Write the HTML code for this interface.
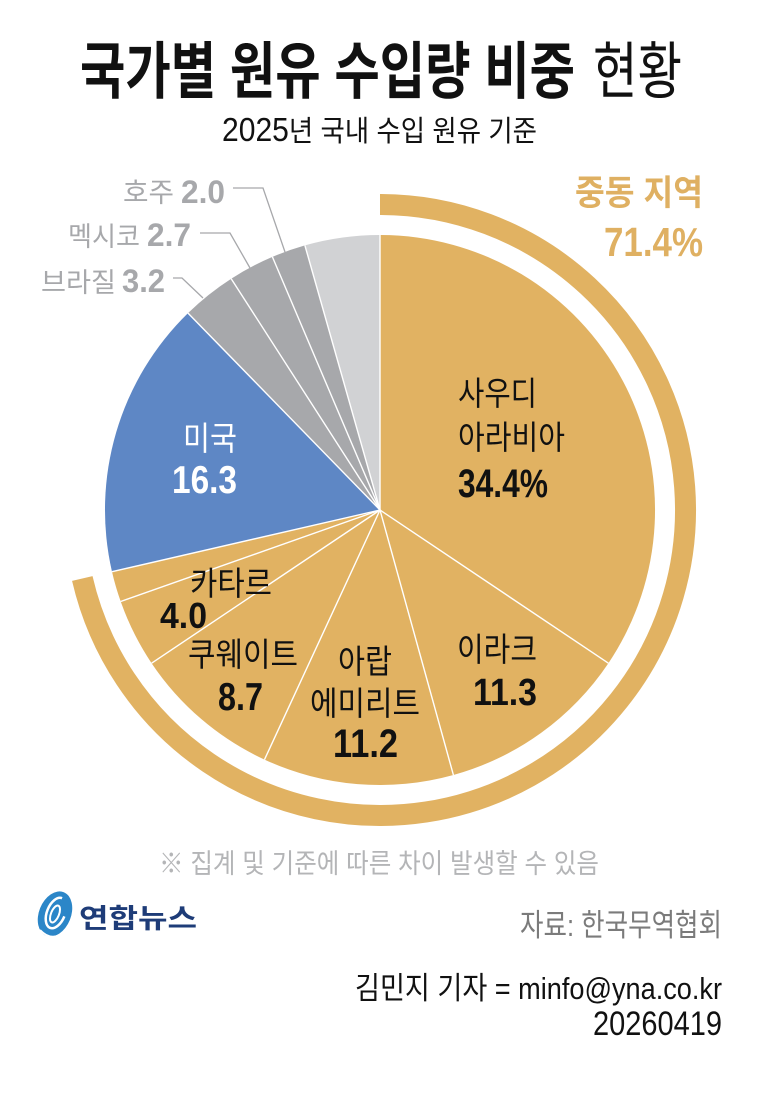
<!DOCTYPE html>
<html>
<head>
<meta charset="utf-8">
<style>
  html, body { margin: 0; padding: 0; background: #ffffff; }
  body { width: 759px; height: 1116px; overflow: hidden; }
  svg { display: block; }
  text { font-family: "Liberation Sans", "Noto Sans CJK KR", sans-serif; }
  .k { font-family: "Liberation Sans", "Noto Sans CJK KR", sans-serif; }
</style>
</head>
<body>
<svg width="759" height="1116" viewBox="0 0 759 1116" xmlns="http://www.w3.org/2000/svg">
  <rect x="0" y="0" width="759" height="1116" fill="#ffffff"/>

  <!-- Title -->
  <text x="80" y="93" font-size="62" font-weight="bold" fill="#111" textLength="495" lengthAdjust="spacingAndGlyphs">국가별 원유 수입량 비중</text>
  <text x="593" y="93" font-size="62" font-weight="normal" fill="#111" textLength="89" lengthAdjust="spacingAndGlyphs">현황</text>

  <!-- Subtitle -->
  <text x="222" y="141" font-size="29" fill="#111" textLength="315" lengthAdjust="spacingAndGlyphs"><tspan font-size="33">2025</tspan>년 국내 수입 원유 기준</text>

  <!-- Outer ring (Middle East 71.4%) -->
  <path d="M380,204.5 A305.5,305.5 0 1,1 82.3,578.5" stroke="#E1B262" stroke-width="21" fill="none"/>

  <!-- Pie slices -->
  <g>
    <path d="M380,510 L380,235 A275,275 0 0,1 608.4,663.2 Z" fill="#E1B262"/>
    <path d="M380,510 L608.4,663.2 A275,275 0 0,1 453.4,775.0 Z" fill="#E1B262"/>
    <path d="M380,510 L453.4,775.0 A275,275 0 0,1 264.5,759.6 Z" fill="#E1B262"/>
    <path d="M380,510 L264.5,759.6 A275,275 0 0,1 151.6,663.2 Z" fill="#E1B262"/>
    <path d="M380,510 L151.6,663.2 A275,275 0 0,1 120.7,601.5 Z" fill="#E1B262"/>
    <path d="M380,510 L120.7,601.5 A275,275 0 0,1 112.0,571.7 Z" fill="#E1B262"/>
    <path d="M380,510 L112.0,571.7 A275,275 0 0,1 188.0,313.1 Z" fill="#5E87C5"/>
    <path d="M380,510 L188.0,313.1 A275,275 0 0,1 231.2,278.7 Z" fill="#A7A8AB"/>
    <path d="M380,510 L231.2,278.7 A275,275 0 0,1 272.4,256.9 Z" fill="#A7A8AB"/>
    <path d="M380,510 L272.4,256.9 A275,275 0 0,1 304.9,245.4 Z" fill="#A7A8AB"/>
    <path d="M380,510 L304.9,245.4 A275,275 0 0,1 380,235 Z" fill="#D1D2D4"/>
  </g>
  <!-- separators -->
  <g stroke="#ffffff" stroke-width="1.4" fill="none">
    <line x1="380" y1="510" x2="380" y2="235"/>
    <line x1="380" y1="510" x2="608.4" y2="663.2"/>
    <line x1="380" y1="510" x2="453.4" y2="775.0"/>
    <line x1="380" y1="510" x2="264.5" y2="759.6"/>
    <line x1="380" y1="510" x2="151.6" y2="663.2"/>
    <line x1="380" y1="510" x2="120.7" y2="601.5"/>
    <line x1="380" y1="510" x2="112.0" y2="571.7"/>
    <line x1="380" y1="510" x2="188.0" y2="313.1"/>
    <line x1="380" y1="510" x2="231.2" y2="278.7"/>
    <line x1="380" y1="510" x2="272.4" y2="256.9"/>
    <line x1="380" y1="510" x2="304.9" y2="245.4"/>
  </g>

  <!-- Leader lines -->
  <g stroke="#A7A8AB" stroke-width="1.3" fill="none">
    <polyline points="233,188 263,188 285,252"/>
    <polyline points="200,233 230,233 250,268"/>
    <polyline points="173,278 182,278 203,298"/>
  </g>

  <!-- Gray labels -->
  <text x="123" y="202" font-size="27" fill="#A7A8AB" textLength="51" lengthAdjust="spacingAndGlyphs">호주</text>
  <text x="181" y="203" font-size="32" font-weight="bold" fill="#A7A8AB" textLength="44" lengthAdjust="spacingAndGlyphs">2.0</text>
  <text x="68" y="246" font-size="27" fill="#A7A8AB" textLength="72" lengthAdjust="spacingAndGlyphs">멕시코</text>
  <text x="147" y="246" font-size="32" font-weight="bold" fill="#A7A8AB" textLength="44" lengthAdjust="spacingAndGlyphs">2.7</text>
  <text x="41" y="292" font-size="27" fill="#A7A8AB" textLength="75" lengthAdjust="spacingAndGlyphs">브라질</text>
  <text x="122" y="292" font-size="32" font-weight="bold" fill="#A7A8AB" textLength="43" lengthAdjust="spacingAndGlyphs">3.2</text>

  <!-- Middle East label -->
  <text x="575" y="205" font-size="35" font-weight="bold" fill="#DFB062" textLength="128" lengthAdjust="spacingAndGlyphs">중동 지역</text>
  <text x="604" y="256" font-size="41" font-weight="bold" fill="#DFB062" textLength="99" lengthAdjust="spacingAndGlyphs">71.4%</text>

  <!-- Saudi -->
  <text x="458" y="405" font-size="33" fill="#111" textLength="79" lengthAdjust="spacingAndGlyphs">사우디</text>
  <text x="458" y="449" font-size="33" fill="#111" textLength="107" lengthAdjust="spacingAndGlyphs">아라비아</text>
  <text x="458" y="497" font-size="40" font-weight="bold" fill="#111" textLength="90" lengthAdjust="spacingAndGlyphs">34.4%</text>

  <!-- US -->
  <text x="183" y="450" font-size="33" fill="#ffffff" textLength="54" lengthAdjust="spacingAndGlyphs">미국</text>
  <text x="172" y="493" font-size="39" font-weight="bold" fill="#ffffff" textLength="65" lengthAdjust="spacingAndGlyphs">16.3</text>

  <!-- Qatar -->
  <text x="190" y="595" font-size="33" fill="#111" textLength="82" lengthAdjust="spacingAndGlyphs">카타르</text>
  <text x="160" y="628" font-size="36" font-weight="bold" fill="#111" textLength="47" lengthAdjust="spacingAndGlyphs">4.0</text>

  <!-- Kuwait -->
  <text x="188" y="666" font-size="33" fill="#111" textLength="110" lengthAdjust="spacingAndGlyphs">쿠웨이트</text>
  <text x="218" y="710" font-size="39" font-weight="bold" fill="#111" textLength="45" lengthAdjust="spacingAndGlyphs">8.7</text>

  <!-- UAE -->
  <text x="338" y="673" font-size="33" fill="#111" textLength="54" lengthAdjust="spacingAndGlyphs">아랍</text>
  <text x="310" y="715" font-size="33" fill="#111" textLength="110" lengthAdjust="spacingAndGlyphs">에미리트</text>
  <text x="333" y="757" font-size="40" font-weight="bold" fill="#111" textLength="65" lengthAdjust="spacingAndGlyphs">11.2</text>

  <!-- Iraq -->
  <text x="457" y="661" font-size="33" fill="#111" textLength="80" lengthAdjust="spacingAndGlyphs">이라크</text>
  <text x="473" y="705" font-size="38" font-weight="bold" fill="#111" textLength="64" lengthAdjust="spacingAndGlyphs">11.3</text>

  <!-- Note -->
  <text x="159" y="873" font-size="27" fill="#B4B5B7" textLength="440" lengthAdjust="spacingAndGlyphs">※ 집계 및 기준에 따른 차이 발생할 수 있음</text>

  <!-- Logo -->
  <g>
    <ellipse cx="55" cy="914" rx="16" ry="23.5" transform="rotate(22 55 914)" fill="#2B86C8"/>
    <ellipse cx="56" cy="913" rx="9" ry="16" transform="rotate(22 56 913)" fill="none" stroke="#ffffff" stroke-width="2.5" stroke-dasharray="60 30"/>
    <ellipse cx="55" cy="914" rx="4" ry="9" transform="rotate(22 55 914)" fill="none" stroke="#ffffff" stroke-width="2"/>
    <path d="M40,930 Q55,946 72,924" stroke="#ffffff" stroke-width="2" fill="none"/>
  </g>
  <text x="79" y="928" font-size="27" font-weight="bold" fill="#1E3C78" textLength="118" lengthAdjust="spacingAndGlyphs">연합뉴스</text>

  <!-- Source -->
  <text x="520" y="936" font-size="31" fill="#7B7B7B" textLength="202" lengthAdjust="spacingAndGlyphs">자료: 한국무역협회</text>

  <!-- Credit -->
  <text x="355" y="999" font-size="31" fill="#111" textLength="367" lengthAdjust="spacingAndGlyphs">김민지 기자 = minfo@yna.co.kr</text>
  <text x="593" y="1035" font-size="34" fill="#111" textLength="129" lengthAdjust="spacingAndGlyphs">20260419</text>
</svg>
</body>
</html>
